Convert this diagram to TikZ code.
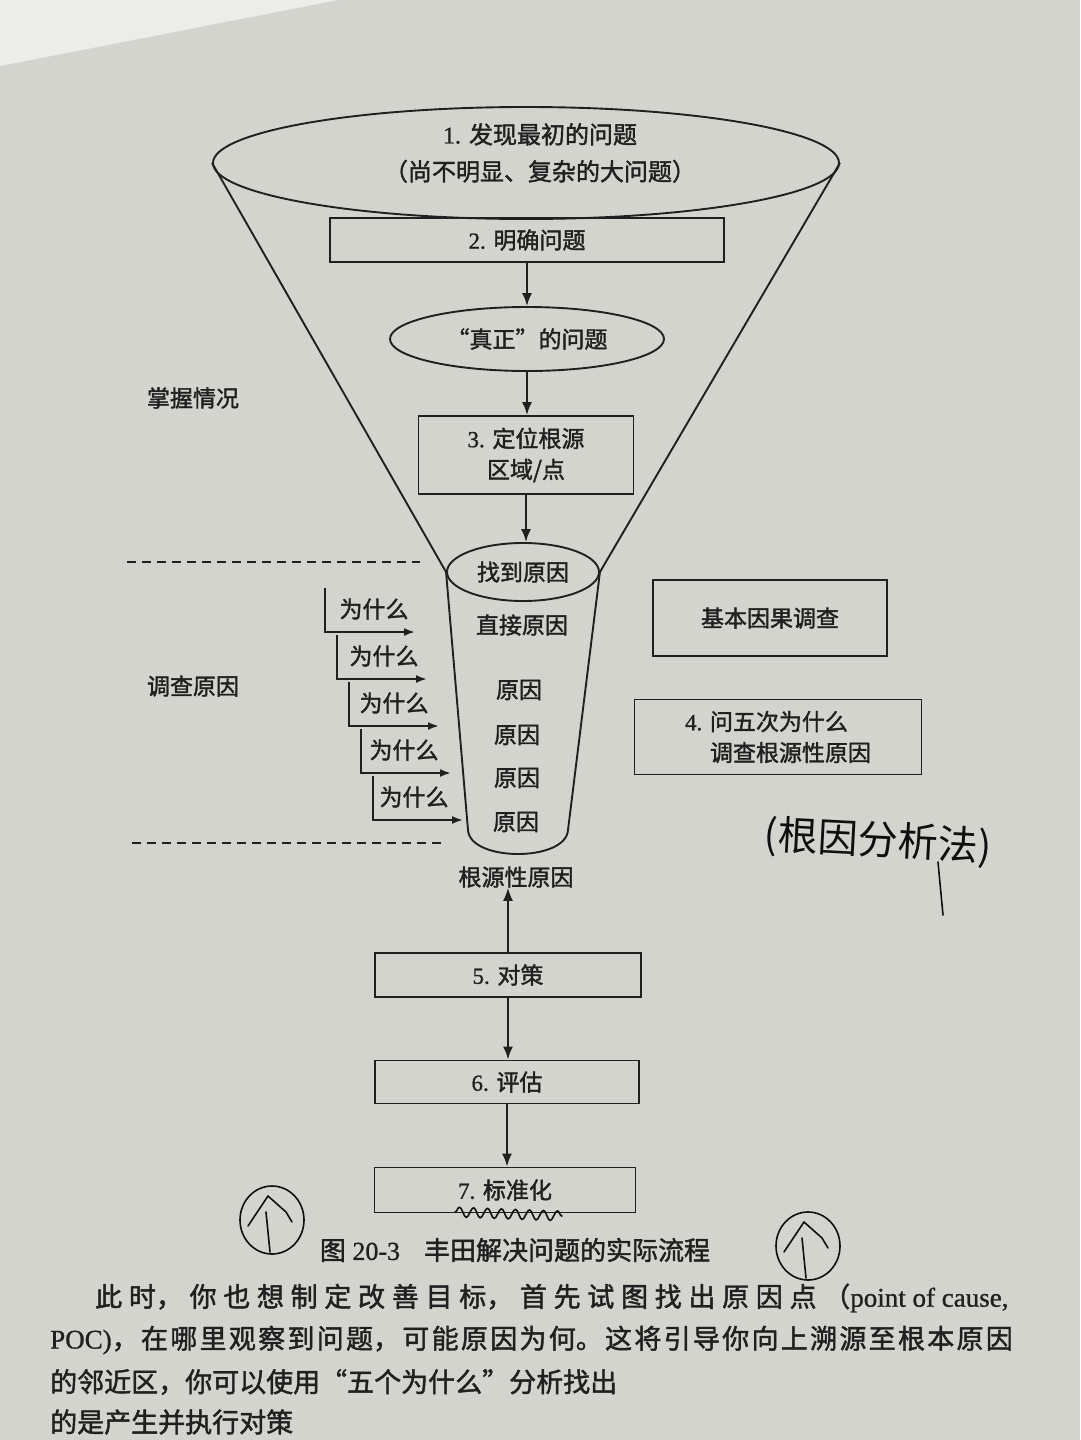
\documentclass[tikz,border=0pt]{standalone}
\usepackage{fontspec}
\setmainfont[RawFeature={embolden=1.0}]{Liberation Serif}
\newfontfamily\cjk[RawFeature={embolden=1.6}]{Noto Sans CJK SC}
\newfontfamily\penfont{Noto Sans CJK SC}
\usetikzlibrary{arrows.meta,shapes.geometric,decorations.pathmorphing}
\definecolor{paper}{RGB}{212,212,207}
\definecolor{corner}{RGB}{236,236,234}
\definecolor{ink}{RGB}{32,32,32}
\definecolor{pen}{RGB}{15,15,15}
\newcommand\zh[1]{{\cjk #1}}
\newcommand\lblfont{\fontsize{23}{31}\selectfont}
\XeTeXlinebreaklocale "zh"
\XeTeXlinebreakskip=0pt plus 1fil
\begin{document}
\begin{tikzpicture}[x=1pt,y=-1pt,
  ln/.style={draw=ink,line width=1.9pt},
  arr/.style={draw=ink,line width=1.9pt,-{Latex[length=13pt,width=10pt]}},
  sarr/.style={draw=ink,line width=1.9pt,-{Latex[length=11pt,width=8pt]}},
  bx/.style={draw=ink,line width=1.9pt,inner sep=0pt,text=ink,font=\lblfont,align=center},
  lbl/.style={inner sep=0pt,text=ink,font=\lblfont,align=center},
  dsh/.style={draw=ink,line width=1.9pt,dash pattern=on 9pt off 6pt},
  body/.style={inner sep=0pt,text=ink,font=\fontsize{27}{33}\selectfont,align=justify},
  hand/.style={draw=pen,line width=1.6pt,line cap=round,line join=round}]
\useasboundingbox (0,0) rectangle (1080,1440);
\clip (0,0) rectangle (1080,1440);
\fill[paper] (0,0) rectangle (1080,1440);
\fill[corner] (0,0) -- (338,0) -- (0,66) -- cycle;

% funnel top
\node[ellipse,draw=ink,line width=1.9pt,minimum width=626pt,minimum height=112pt,inner sep=0pt] (e1) at (526,163) {};
\node[lbl,font=\fontsize{24}{37}\selectfont] (t1) at (540,153) {1. \zh{发现最初的问题}\\\zh{（尚不明显、复杂的大问题）}};

\node[bx,minimum width=394pt,minimum height=44pt] (b2) at (527,240) {2. \zh{明确问题}};
\node[ellipse,draw=ink,line width=1.9pt,inner sep=0pt,minimum width=274pt,minimum height=64pt,text=ink,font=\lblfont] (e2) at (527,339) {\zh{“真正”的问题}};
\node[bx,minimum width=215pt,minimum height=78pt] (b3) at (526,455) {3. \zh{定位根源}\\\zh{区域/点}};
\node[ellipse,draw=ink,line width=1.9pt,inner sep=0pt,minimum width=152pt,minimum height=58pt,text=ink,font=\lblfont] (se) at (523,572) {\zh{找到原因}};

\draw[ln] (e1.west) -- (se.west);
\draw[ln] (e1.east) -- (se.east);
\coordinate (cbl) at (468,830);
\coordinate (cbr) at (568,830);
\draw[ln] (se.west) -- (cbl) .. controls (470,862) and (566,862) .. (cbr) -- (se.east);

\draw[arr] (b2.south) -- (b2.south |- e2.north);
\draw[arr] (e2.south) -- (e2.south |- b3.north);
\draw[arr] (b3.south) -- (b3.south |- se.north);

% causes inside the cylinder
\node[lbl] (c0) at (522,625) {\zh{直接原因}};
\node[lbl] (c1) at (519,690) {\zh{原因}};
\node[lbl] (c2) at (517,735) {\zh{原因}};
\node[lbl] (c3) at (517,778) {\zh{原因}};
\node[lbl] (c4) at (516,822) {\zh{原因}};

% left labels and dashed separators
\node[lbl] (l1) at (193,398) {\zh{掌握情况}};
\node[lbl] (l2) at (193,686) {\zh{调查原因}};
\coordinate (d1a) at (127,562);
\coordinate (d1b) at (420,562);
\coordinate (d2a) at (132,843);
\coordinate (d2b) at (442,843);
\draw[dsh] (d1a) -- (d1b);
\draw[dsh] (d2a) -- (d2b);

% five whys
\foreach \i in {0,...,4}{
  \coordinate (wt\i) at ({325+12*\i},{588+47*\i});
  \coordinate (wc\i) at ({325+12*\i},{632+47*\i});
  \coordinate (we\i) at ({415+12*\i},{632+47*\i});
  \node[lbl] (w\i) at ({374+10*\i},{609+47*\i}) {\zh{为什么}};
  \draw[sarr] (wt\i) -- (wc\i) -- (we\i);
}

% right boxes
\node[bx,minimum width=234pt,minimum height=76pt] (r1) at (770,618) {\zh{基本因果调查}};
\node[bx,minimum width=287pt,minimum height=75pt,align=left] (r2) at (778,737) {4. \zh{问五次为什么}\\\hphantom{4. }\zh{调查根源性原因}};

% root cause and lower steps
\node[lbl] (rc) at (516,877) {\zh{根源性原因}};
\node[bx,minimum width=266pt,minimum height=44pt] (b5) at (508,975) {5. \zh{对策}};
\node[bx,minimum width=264pt,minimum height=43pt] (b6) at (507,1082) {6. \zh{评估}};
\node[bx,minimum width=261pt,minimum height=45pt] (b7) at (505,1190) {7. \zh{标准化}};
\draw[arr] (b5.north) -- (b5.north |- rc.south);
\draw[arr] (b5.south) -- (b5.south |- b6.north);
\draw[arr] (b6.south) -- (b6.south |- b7.north);

% caption
\node[inner sep=0pt,text=ink,font=\fontsize{26}{30}\selectfont] (cap) at (515,1250) {\zh{图} 20-3\hspace{24pt}\zh{丰田解决问题的实际流程}};

% body text
\node[body,text width=920pt,anchor=west] (p1) at (95,1298) {\parfillskip=0pt \zh{此时，你也想制定改善目标，首先试图找出原因点（}point of cause,};
\node[body,text width=965pt,anchor=west] (p2) at (50,1340) {\parfillskip=0pt POC)\zh{，在哪里观察到问题，可能原因为何。这将引导你向上溯源至根本原因}};
\node[body,anchor=west,align=left] (p3) at (50,1382) {\zh{的邻近区，你可以使用“五个为什么”分析找出}};
\node[body,anchor=west,align=left] (p4) at (50,1422) {\zh{的是产生并执行对策}};

% handwritten annotations
\node[inner sep=0pt,text=pen,font=\penfont\fontsize{40}{40}\selectfont,rotate=-3] (hw) at (878,842) {(根因分析法)};
\coordinate (tl1) at (938,862);
\coordinate (tl2) at (943,915);
\draw[hand] (tl1) -- (tl2);
\coordinate (wv1) at (455,1212);
\coordinate (wv2) at (562,1216);
\draw[hand,decorate,decoration={snake,segment length=14pt,amplitude=5pt}] (wv1) -- (wv2);
\foreach \n/\cx/\cy in {m1/272/1220,m2/808/1246}{
  \coordinate (\n) at (\cx,\cy);
  \draw[hand] (\n) ellipse[x radius=32pt,y radius=34pt];
  \draw[hand] (\n) ++(-4,-24) -- ++(-20,30);
  \draw[hand] (\n) ++(-4,-24) -- ++(18,16) -- ++(6,10);
  \draw[hand] (\n) ++(-6,-8) -- ++(4,40);
}
\end{tikzpicture}
\end{document}
